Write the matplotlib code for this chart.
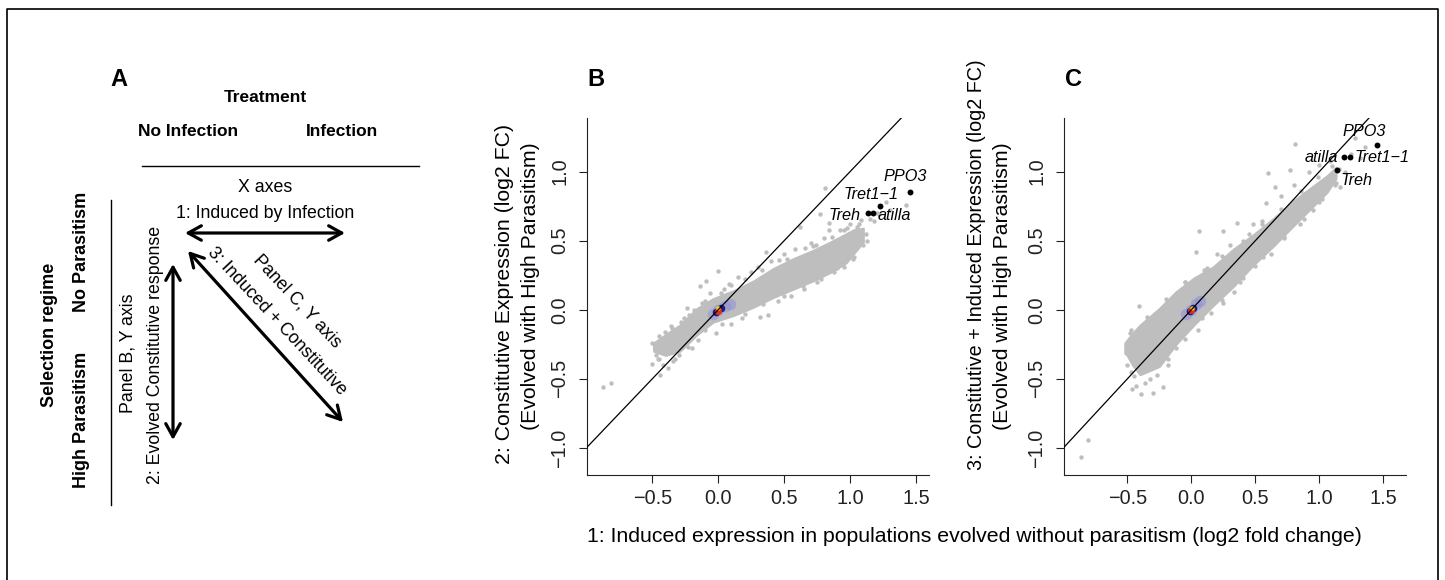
import matplotlib
matplotlib.use("Agg")
import matplotlib.pyplot as plt

W, H = 1445, 580
GRAY = "#bebebe"
FONT = "Liberation Sans"

plt.rcParams.update({
    "font.family": [FONT, "DejaVu Sans"],
    "axes.unicode_minus": True,
    "xtick.color": "#222222",
    "ytick.color": "#222222",
})

# ---- data ---------------------------------------------------------------
X_TICKS = [-0.5, 0.0, 0.5, 1.0, 1.5]
Y_TICKS = [-1.0, -0.5, 0.0, 0.5, 1.0]
X_TICK_LABELS = ["\u22120.5", "0.0", "0.5", "1.0", "1.5"]
Y_TICK_LABELS = ["\u22121.0", "\u22120.5", "0.0", "0.5", "1.0"]

GENES = ["PPO3", "Tret1\u22121", "Treh", "atilla"]

# panel B: constitutive expression vs induced expression
# dense part of the cloud: outer envelope
B_band_x = [-0.49, -0.40, -0.29, -0.16, -0.04, 0.12, 0.27, 0.42, 0.57, 0.72,
            0.85, 0.97, 1.03, 1.10]
B_band_lo = [-0.30, -0.33, -0.30, -0.18, -0.09, -0.04, 0.02, 0.09, 0.15, 0.21,
             0.27, 0.34, 0.41, 0.49]
B_band_hi = [-0.24, -0.18, -0.11, 0.01, 0.08, 0.14, 0.21, 0.30, 0.37, 0.43,
             0.49, 0.55, 0.58, 0.59]
# sparse points around the cloud
B_pts_x = [-0.87, -0.81, -0.50, -0.44, -0.50, -0.48, -0.47, -0.45, -0.42, -0.40,
           -0.38, -0.35, -0.33, -0.30, -0.28, -0.24, -0.22, -0.20, -0.15, -0.12,
           -0.09, -0.06, -0.02, 0.00, 0.04, 0.08, 0.10, 0.15, 0.18, 0.25,
           0.30, 0.32, 0.36, 0.38, 0.40, 0.45, 0.50, 0.55, 0.58, 0.62,
           0.65, 0.70, 0.75, 0.77, 0.80, 0.81, 0.84, 0.84, 0.88, 0.92,
           0.95, 1.00, 1.03, 1.05, 1.08, 1.10, 1.13, 1.12, 1.15, 1.18,
           1.20, 1.22, 1.30, 1.42, 1.27, -0.14, 0.60, 0.95, 1.06, 0.72,
           -0.45, -0.36, -0.26, -0.18, -0.10, 0.02, 0.10, 0.20, 0.33, 0.46,
           0.52, 0.66, 0.74, 0.86, 0.98, 1.07, -0.46, -0.34, -0.23, -0.10,
           0.03, 0.20, 0.34, 0.50, 0.64, 0.78, 0.90, 1.02]
B_pts_y = [-0.56, -0.53, -0.39, -0.47, -0.24, -0.28, -0.33, -0.36, -0.40, -0.16,
           -0.42, -0.13, -0.36, -0.33, -0.09, 0.01, -0.04, -0.28, -0.22, 0.05,
           0.21, 0.12, -0.17, 0.28, 0.15, 0.19, -0.10, 0.24, -0.06, 0.27,
           0.31, -0.05, 0.42, -0.04, 0.35, 0.06, 0.40, 0.10, 0.44, 0.60,
           0.15, 0.48, 0.20, 0.69, 0.52, 0.88, 0.63, 0.58, 0.27, 0.58,
           0.31, 0.62, 0.38, 0.60, 0.65, 0.47, 0.50, 0.55, 0.66, 0.64,
           0.70, 0.69, 0.72, 0.76, 0.78, 0.17, 0.21, 0.58, 0.52, 0.46,
           -0.19, -0.12, -0.06, 0.00, 0.06, 0.12, 0.18, 0.22, 0.29, 0.36,
           0.37, 0.45, 0.47, 0.53, 0.59, 0.62, -0.36, -0.37, -0.27, -0.15,
           -0.10, -0.03, 0.04, 0.10, 0.17, 0.22, 0.30, 0.37]
B_core_x = [0.00, 0.05, -0.04, 0.09, -0.02, 0.02, 0.00, 0.00]
B_core_y = [0.00, 0.03, -0.03, 0.04, -0.015, 0.015, -0.01, 0.01]
B_core_lvl = [0, 0, 0, 0, 1, 1, 2, 3]
B_gene_x = [1.455, 1.227, 1.135, 1.170]
B_gene_y = [0.855, 0.754, 0.700, 0.700]

# panel C: constitutive + induced expression vs induced expression
C_band_x = [-0.52, -0.46, -0.40, -0.25, -0.12, 0.02, 0.17, 0.33, 0.48, 0.64,
            0.80, 0.93, 1.06, 1.13]
C_band_lo = [-0.30, -0.40, -0.47, -0.41, -0.25, -0.11, 0.03, 0.17, 0.32, 0.46,
             0.61, 0.73, 0.85, 0.95]
C_band_hi = [-0.24, -0.17, -0.11, 0.01, 0.13, 0.23, 0.31, 0.44, 0.54, 0.66,
             0.79, 0.88, 0.97, 1.03]
C_pts_x = [-0.865, -0.807, -0.51, -0.48, -0.46, -0.39, -0.30, -0.22, -0.41, -0.50,
           -0.47, -0.44, -0.36, -0.33, -0.27, -0.25, -0.18, -0.15, -0.12, -0.08,
           -0.05, 0.04, 0.06, 0.05, 0.12, 0.15, 0.20, 0.25, 0.25, 0.30,
           0.36, 0.38, 0.41, 0.45, 0.48, 0.50, 0.55, 0.58, 0.60, 0.62,
           0.65, 0.70, 0.72, 0.77, 0.80, 0.81, 0.85, 0.89, 0.92, 0.95,
           1.00, 1.02, 1.05, 1.08, 1.10, 1.13, 1.16, 1.15, 1.20, 1.28,
           1.32, 1.36, 1.25, -0.43, -0.35, 0.33, 0.68,
           -0.47, -0.35, -0.20, -0.05, 0.10, 0.24, 0.40, 0.55, 0.70, 0.86,
           0.99, 1.10, -0.45, -0.32, -0.18, -0.05, 0.08, 0.24, 0.40, 0.56,
           0.72, 0.88, 1.00, 1.12]
C_pts_y = [-1.063, -0.942, -0.31, -0.17, -0.57, -0.61, -0.60, -0.56, 0.03, -0.40,
           -0.45, -0.26, -0.53, -0.12, -0.47, -0.05, -0.40, 0.05, -0.28, 0.12,
           0.20, 0.42, 0.57, -0.15, 0.30, -0.02, 0.40, 0.57, 0.05, 0.47,
           0.63, 0.20, 0.27, 0.55, 0.62, 0.32, 0.64, 0.77, 0.99, 0.40,
           0.89, 0.82, 0.52, 1.01, 0.90, 1.20, 0.62, 0.76, 1.00, 0.72,
           1.05, 0.80, 0.90, 1.08, 0.95, 0.92, 0.89, 1.02, 1.00, 1.24,
           1.10, 1.18, 1.13, -0.55, -0.12, 0.13, 0.60,
           -0.15, -0.05, 0.08, 0.20, 0.29, 0.39, 0.50, 0.62, 0.73, 0.86,
           0.96, 1.04, -0.48, -0.50, -0.36, -0.21, -0.06, 0.07, 0.23, 0.38,
           0.53, 0.66, 0.78, 0.90]
C_core_x = [0.00, 0.04, -0.04, 0.07, -0.01, 0.01, 0.00, 0.005]
C_core_y = [0.00, 0.04, -0.03, 0.06, -0.01, 0.01, 0.00, 0.01]
C_core_lvl = [0, 0, 0, 0, 1, 1, 2, 3]
C_gene_x = [1.453, 1.240, 1.141, 1.193]
C_gene_y = [1.196, 1.107, 1.009, 1.107]

LEVEL_COLORS = ["#9090d8", "#1c1c86", "#e42a1c", "#f4d400"]
LEVEL_SIZES = [70, 30, 26, 10]
LEVEL_ALPHA = [0.55, 1.0, 1.0, 1.0]


def px_axes(fig, left, top, right, bottom):
    return fig.add_axes([left / W, 1 - bottom / H, (right - left) / W, (bottom - top) / H])


def scatter_panel(ax, xlim, band, pts, core, genes_xy, label_offsets):
    ax.set_xlim(*xlim)
    ax.set_ylim(-1.196, 1.39)
    bx, blo, bhi = band
    ax.fill_between(bx, blo, bhi, color=GRAY, lw=1.5, edgecolor=GRAY, zorder=1)
    ax.scatter(pts[0], pts[1], s=10, color=GRAY, lw=0, zorder=2)
    cx, cy, lvl = core
    for k in range(4):
        xs = [x for x, l in zip(cx, lvl) if l == k]
        ys = [y for y, l in zip(cy, lvl) if l == k]
        ax.scatter(xs, ys, s=LEVEL_SIZES[k], color=LEVEL_COLORS[k],
                   alpha=LEVEL_ALPHA[k], lw=0, zorder=3 + k)
    ax.plot([-2, 2], [-2, 2], color="black", lw=0.9, zorder=8)
    gx, gy = genes_xy
    ax.scatter(gx, gy, s=18, color="black", lw=0, zorder=9)
    for name, x, y, (dx, dy, ha) in zip(GENES, gx, gy, label_offsets):
        ax.annotate(name, (x, y), xytext=(dx, dy), textcoords="offset pixels",
                    ha=ha, va="center", fontsize=11.7, style="italic", zorder=10)

    ax.set_xticks(X_TICKS)
    ax.set_xticklabels(X_TICK_LABELS)
    ax.set_yticks(Y_TICKS)
    ax.set_yticklabels(Y_TICK_LABELS, rotation=90, va="center")
    ax.tick_params(axis="both", labelsize=14.3, length=5.8, width=0.8)
    ax.tick_params(axis="x", pad=4)
    ax.tick_params(axis="y", pad=7)
    for s in ["top", "right"]:
        ax.spines[s].set_visible(False)
    for s in ["left", "bottom"]:
        ax.spines[s].set_linewidth(0.8)
        ax.spines[s].set_color("#222222")
    ax.set_facecolor("none")


def dbl_arrow(ax, p0, p1):
    ax.annotate("", xy=p1, xytext=p0,
                arrowprops=dict(arrowstyle="<->,head_length=0.47,head_width=0.26",
                                lw=2.3, color="black", shrinkA=0, shrinkB=0,
                                mutation_scale=20))


def panel_a(ax):
    t = dict(ha="center", va="center")
    ax.text(119, 80, "A", fontsize=17, fontweight="bold", **t)
    ax.text(265, 98, "Treatment", fontsize=12.5, fontweight="bold", **t)
    ax.text(188, 132, "No Infection", fontsize=12.5, fontweight="bold", **t)
    ax.text(342, 132, "Infection", fontsize=12.5, fontweight="bold", **t)
    ax.plot([142, 419], [166, 166], color="black", lw=1)
    ax.text(265, 187, "X axes", fontsize=12.8, **t)
    ax.text(265, 214, "1: Induced by Infection", fontsize=12.8, **t)
    dbl_arrow(ax, (185, 233), (345, 233))
    dbl_arrow(ax, (188, 251), (343, 422))
    dbl_arrow(ax, (173, 264), (173, 440))
    ax.plot([111, 111], [200, 505], color="black", lw=1)
    ax.text(49, 335, "Selection regime", fontsize=13, fontweight="bold", rotation=90, **t)
    ax.text(81, 252, "No Parasitism", fontsize=13, fontweight="bold", rotation=90, **t)
    ax.text(81, 420, "High Parasitism", fontsize=13, fontweight="bold", rotation=90, **t)
    ax.text(128, 353, "Panel B, Y axis", fontsize=12.8, rotation=90, **t)
    ax.text(156, 355, "2: Evolved Constitutive response", fontsize=12.8, rotation=90, **t)
    ax.text(277, 321, "3: Induced + Constitutive", fontsize=12.8, rotation=-47, **t)
    ax.text(297, 301, "Panel C, Y axis", fontsize=12.8, rotation=-47, **t)


def main():
    fig = plt.figure(figsize=(W / 100, H / 100), dpi=100, facecolor="white")

    ov = fig.add_axes([0, 0, 1, 1])
    ov.set_xlim(0, W)
    ov.set_ylim(H, 0)
    ov.axis("off")
    ov.plot([7, 7, 1438, 1438], [H + 5, 9, 9, H + 5], color="black", lw=1.2, clip_on=False)
    panel_a(ov)

    t = dict(ha="center", va="center")
    ov.text(596, 80, "B", fontsize=17, fontweight="bold", **t)
    ov.text(1073, 80, "C", fontsize=17, fontweight="bold", **t)
    ov.text(505, 294, "2: Constitutive Expression (log2 FC)", fontsize=15.3, rotation=90, **t)
    ov.text(530, 286, "(Evolved with High Parasitism)", fontsize=15.3, rotation=90, **t)
    ov.text(976, 265, "3: Constitutive + Induced Expression (log2 FC)", fontsize=14.2,
            rotation=90, **t)
    ov.text(1003, 286, "(Evolved with High Parasitism)", fontsize=15.3, rotation=90, **t)
    ov.text(587, 537, "1: Induced expression in populations evolved without parasitism "
            "(log2 fold change)", fontsize=15.3, ha="left", va="center")

    axb = px_axes(fig, 587, 117.7, 929, 475)
    scatter_panel(axb, (-0.995, 1.598), (B_band_x, B_band_lo, B_band_hi),
                  (B_pts_x, B_pts_y), (B_core_x, B_core_y, B_core_lvl),
                  (B_gene_x, B_gene_y),
                  [(-5, 15, "center"), (-9, 11, "center"), (-7, -2, "right"), (5, -2, "left")])

    axc = px_axes(fig, 1064, 117.7, 1406, 475)
    scatter_panel(axc, (-0.995, 1.677), (C_band_x, C_band_lo, C_band_hi),
                  (C_pts_x, C_pts_y), (C_core_x, C_core_y, C_core_lvl),
                  (C_gene_x, C_gene_y),
                  [(-13, 13, "center"), (4, -1, "left"), (3, -10, "left"), (-6, -1, "right")])

    fig.savefig("out.png", dpi=100, facecolor="white")
    plt.close(fig)


if __name__ == "__main__":
    main()
